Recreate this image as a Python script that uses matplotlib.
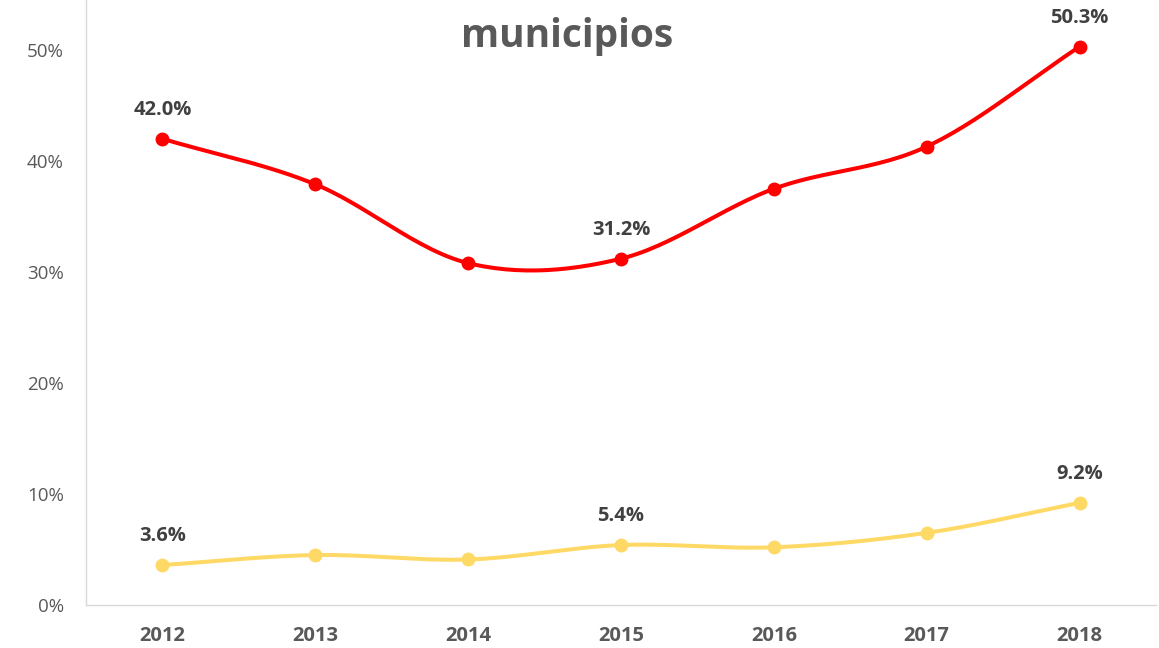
import numpy as np
import matplotlib.pyplot as plt
from matplotlib.ticker import FuncFormatter

years = ["2012", "2013", "2014", "2015", "2016", "2017", "2018"]
rojo = [42.0, 37.9, 30.8, 31.2, 37.5, 41.3, 50.3]
amarillo = [3.6, 4.5, 4.1, 5.4, 5.2, 6.5, 9.2]
etiquetas_idx = [0, 3, 6]  # puntos con etiqueta de datos

plt.rcParams["font.family"] = ["Open Sans", "DejaVu Sans"]


def suavizar(x, y, n=30):
    # curva tipo "línea suavizada" de Excel (Catmull-Rom)
    x = np.asarray(x, float)
    y = np.asarray(y, float)
    px = np.concatenate([[2 * x[0] - x[1]], x, [2 * x[-1] - x[-2]]])
    py = np.concatenate([[2 * y[0] - y[1]], y, [2 * y[-1] - y[-2]]])
    xs, ys = [], []
    t = np.linspace(0, 1, n)
    for i in range(1, len(px) - 2):
        for p, out in ((px, xs), (py, ys)):
            p0, p1, p2, p3 = p[i - 1], p[i], p[i + 1], p[i + 2]
            out.extend(0.5 * ((2 * p1) + (-p0 + p2) * t
                              + (2 * p0 - 5 * p1 + 4 * p2 - p3) * t ** 2
                              + (-p0 + 3 * p1 - 3 * p2 + p3) * t ** 3))
    return np.array(xs), np.array(ys)


fig = plt.figure(figsize=(11.59, 6.48), dpi=100)
ax = fig.add_axes([86 / 1159, 1 - 605 / 648, 1070 / 1159, 605 / 648])
x = np.arange(len(years))

for serie, color in ((rojo, "#FF0000"), (amarillo, "#FFD966")):
    sx, sy = suavizar(x, serie)
    ax.plot(sx, sy, color=color, lw=2.9, solid_capstyle="round", zorder=2)
    ax.plot(x, serie, "o", color=color, ms=9, zorder=3)
    for i in etiquetas_idx:
        ax.annotate(f"{serie[i]:.1f}%", (x[i], serie[i]), xytext=(0, 21),
                    textcoords="offset points", ha="center", va="center",
                    fontsize=14.5, fontweight="bold", color="#404040")

ax.set_xlim(-0.5, len(years) - 0.5)
ax.set_ylim(0, 605 / 11.1)
ax.set_xticks(x)
ax.set_xticklabels(years, fontsize=14.5, fontweight="bold", color="#595959")
ax.set_yticks([0, 10, 20, 30, 40, 50])
ax.yaxis.set_major_formatter(FuncFormatter(lambda v, p: f"{v:.0f}%"))
ax.tick_params(axis="y", length=0, pad=16, labelsize=13.5, labelcolor="#595959")
ax.tick_params(axis="x", length=0, pad=15)
for s in ("top", "right"):
    ax.spines[s].set_visible(False)
for s in ("left", "bottom"):
    ax.spines[s].set_color("#D9D9D9")
    ax.spines[s].set_linewidth(1)

fig.text(567 / 1159, 1 - 36 / 648, "municipios", ha="center", va="center",
         fontsize=28, fontweight="bold", color="#595959")

fig.savefig("out.png", dpi=100)
